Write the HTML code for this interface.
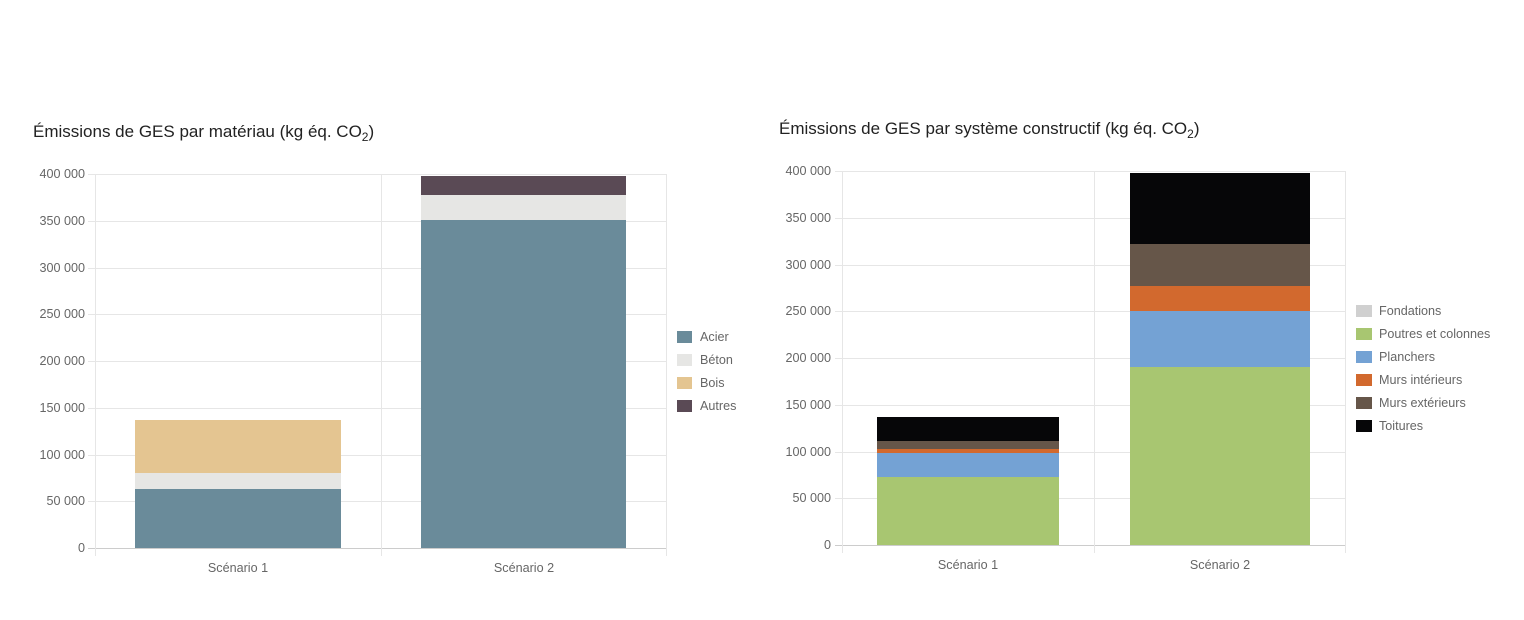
<!DOCTYPE html>
<html><head><meta charset="utf-8"><style>
body{margin:0;background:#fff;}
svg{display:block;font-family:"Liberation Sans",Arial,sans-serif;}
.t{font-size:12.6px;fill:#666;}
.g{stroke:#e6e6e6;stroke-width:1;}
</style></head><body>
<svg width="1524" height="620" viewBox="0 0 1524 620">
<rect width="1524" height="620" fill="#fff"/>
<!-- LEFT CHART -->
<text x="33" y="137" font-size="17" fill="#222">Émissions de GES par matériau (kg éq. CO<tspan font-size="12" dy="4">2</tspan><tspan dy="-4">)</tspan></text>
<g>
<line class="g" x1="88" x2="666" y1="174.5" y2="174.5"/>
<line class="g" x1="88" x2="666" y1="221.5" y2="221.5"/>
<line class="g" x1="88" x2="666" y1="268.5" y2="268.5"/>
<line class="g" x1="88" x2="666" y1="314.5" y2="314.5"/>
<line class="g" x1="88" x2="666" y1="361.5" y2="361.5"/>
<line class="g" x1="88" x2="666" y1="408.5" y2="408.5"/>
<line class="g" x1="88" x2="666" y1="455.5" y2="455.5"/>
<line class="g" x1="88" x2="666" y1="501.5" y2="501.5"/>
<line x1="88" x2="666" y1="548.5" y2="548.5" stroke="#ccc"/>
<line class="g" x1="95.5" x2="95.5" y1="174" y2="556"/>
<line class="g" x1="381.5" x2="381.5" y1="174" y2="556"/>
<line class="g" x1="666.5" x2="666.5" y1="174" y2="556"/>
</g>
<g class="t" text-anchor="end">
<text x="85" y="178">400 000</text><text x="85" y="225">350 000</text><text x="85" y="272">300 000</text>
<text x="85" y="318">250 000</text><text x="85" y="365">200 000</text><text x="85" y="412">150 000</text>
<text x="85" y="459">100 000</text><text x="85" y="505">50 000</text><text x="85" y="552">0</text>
</g>
<rect x="135" y="420" width="206" height="53" fill="#e4c591"/>
<rect x="135" y="473" width="206" height="16" fill="#e6e6e4"/>
<rect x="135" y="489" width="206" height="59" fill="#6a8b9a"/>
<rect x="421" y="176" width="205" height="19" fill="#5a4a55"/>
<rect x="421" y="195" width="205" height="25" fill="#e6e6e4"/>
<rect x="421" y="220" width="205" height="328" fill="#6a8b9a"/>
<g class="t" text-anchor="middle"><text x="238" y="572">Scénario 1</text><text x="524" y="572">Scénario 2</text></g>
<rect x="677" y="331" width="15" height="12" fill="#6a8b9a"/><text class="t" x="700" y="341">Acier</text>
<rect x="677" y="354" width="15" height="12" fill="#e6e6e4"/><text class="t" x="700" y="364">Béton</text>
<rect x="677" y="377" width="15" height="12" fill="#e4c591"/><text class="t" x="700" y="387">Bois</text>
<rect x="677" y="400" width="15" height="12" fill="#5a4a55"/><text class="t" x="700" y="410">Autres</text>

<!-- RIGHT CHART -->
<text x="779" y="134" font-size="17" fill="#222">Émissions de GES par système constructif (kg éq. CO<tspan font-size="12" dy="4">2</tspan><tspan dy="-4">)</tspan></text>
<g>
<line class="g" x1="835" x2="1345" y1="171.5" y2="171.5"/>
<line class="g" x1="835" x2="1345" y1="218.5" y2="218.5"/>
<line class="g" x1="835" x2="1345" y1="265.5" y2="265.5"/>
<line class="g" x1="835" x2="1345" y1="311.5" y2="311.5"/>
<line class="g" x1="835" x2="1345" y1="358.5" y2="358.5"/>
<line class="g" x1="835" x2="1345" y1="405.5" y2="405.5"/>
<line class="g" x1="835" x2="1345" y1="452.5" y2="452.5"/>
<line class="g" x1="835" x2="1345" y1="498.5" y2="498.5"/>
<line x1="835" x2="1345" y1="545.5" y2="545.5" stroke="#ccc"/>
<line class="g" x1="842.5" x2="842.5" y1="171" y2="553"/>
<line class="g" x1="1094.5" x2="1094.5" y1="171" y2="553"/>
<line class="g" x1="1345.5" x2="1345.5" y1="171" y2="553"/>
</g>
<g class="t" text-anchor="end">
<text x="831" y="175">400 000</text><text x="831" y="222">350 000</text><text x="831" y="269">300 000</text>
<text x="831" y="315">250 000</text><text x="831" y="362">200 000</text><text x="831" y="409">150 000</text>
<text x="831" y="456">100 000</text><text x="831" y="502">50 000</text><text x="831" y="549">0</text>
</g>
<rect x="877" y="417" width="182" height="24" fill="#060608"/>
<rect x="877" y="441" width="182" height="8" fill="#665649"/>
<rect x="877" y="449" width="182" height="4" fill="#d2692e"/>
<rect x="877" y="453" width="182" height="24" fill="#74a2d4"/>
<rect x="877" y="477" width="182" height="68" fill="#a8c671"/>
<rect x="1130" y="173" width="180" height="71" fill="#060608"/>
<rect x="1130" y="244" width="180" height="42" fill="#665649"/>
<rect x="1130" y="286" width="180" height="25" fill="#d2692e"/>
<rect x="1130" y="311" width="180" height="56" fill="#74a2d4"/>
<rect x="1130" y="367" width="180" height="178" fill="#a8c671"/>
<g class="t" text-anchor="middle"><text x="968" y="569">Scénario 1</text><text x="1220" y="569">Scénario 2</text></g>
<rect x="1356" y="305" width="16" height="12" fill="#d0d0d0"/><text class="t" x="1379" y="315">Fondations</text>
<rect x="1356" y="328" width="16" height="12" fill="#a8c671"/><text class="t" x="1379" y="338">Poutres et colonnes</text>
<rect x="1356" y="351" width="16" height="12" fill="#74a2d4"/><text class="t" x="1379" y="361">Planchers</text>
<rect x="1356" y="374" width="16" height="12" fill="#d2692e"/><text class="t" x="1379" y="384">Murs intérieurs</text>
<rect x="1356" y="397" width="16" height="12" fill="#665649"/><text class="t" x="1379" y="407">Murs extérieurs</text>
<rect x="1356" y="420" width="16" height="12" fill="#060608"/><text class="t" x="1379" y="430">Toitures</text>
</svg>
</body></html>
